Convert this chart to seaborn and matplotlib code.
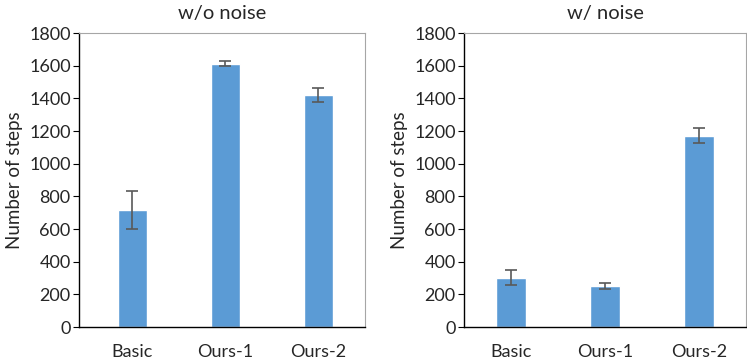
import matplotlib
matplotlib.use("Agg")
import matplotlib.pyplot as plt
import seaborn as sns
import numpy as np
import pandas as pd

methods = ["Basic", "Ours-1", "Ours-2"]
steps_clean = [718, 1612, 1420]
err_clean = [117, 15, 41]
steps_noise = [302, 250, 1172]
err_noise = [45, 20, 46]
titles = ["w/o noise", "w/ noise"]

sns.set_style("white")
plt.rcParams['font.family'] = ['Lato', 'DejaVu Sans']

fig = plt.figure(figsize=(7.47, 3.61), dpi=100)
ax1 = fig.add_axes([79/747, 34/361, 286/747, 294/361])
ax2 = fig.add_axes([464/747, 34/361, 282/747, 294/361])

for ax, vals, errs, title, xl in [(ax1, steps_clean, err_clean, titles[0], (-0.57, 2.5)),
                                  (ax2, steps_noise, err_noise, titles[1], (-0.5, 2.5))]:
    df = pd.DataFrame({"method": methods, "steps": vals})
    sns.barplot(data=df, x="method", y="steps", color="#5B9BD5", saturation=1,
                width=0.31, ax=ax, errorbar=None)
    ax.errorbar(np.arange(len(methods)), vals, yerr=errs, fmt="none",
                ecolor="#595959", elinewidth=1.2, capsize=4, capthick=1.2)
    ax.set_ylim(0, 1800)
    ax.set_yticks(range(0, 1801, 200))
    ax.set_xlim(*xl)
    ax.set_xlabel("")
    ax.set_ylabel("Number of steps", fontsize=13.5, labelpad=4)
    ax.set_title(title, fontsize=14.5, pad=10)
    ax.tick_params(axis="y", which="both", left=True, length=4, width=0.8,
                   labelsize=13, color="black", pad=2)
    ax.tick_params(axis="x", bottom=False, labelsize=13, pad=9)
    for s in ["top", "right"]:
        ax.spines[s].set_color("#A6A6A6")
        ax.spines[s].set_linewidth(0.8)
    for s in ["left", "bottom"]:
        ax.spines[s].set_color("black")
        ax.spines[s].set_linewidth(1.0)

fig.savefig("out.png", dpi=100)
